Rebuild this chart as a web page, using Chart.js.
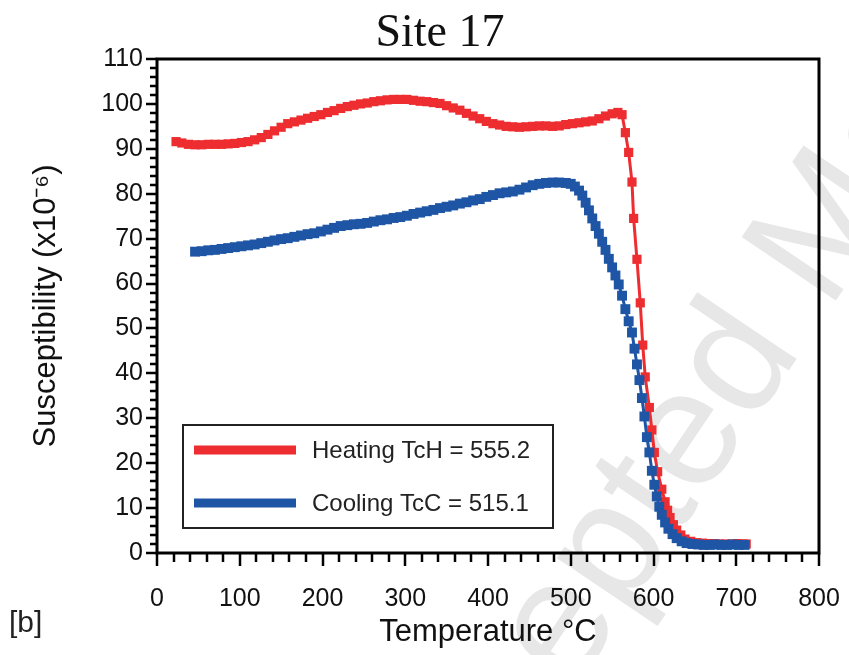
<!DOCTYPE html>
<html>
<head>
<meta charset="utf-8">
<script src="https://cdn.jsdelivr.net/npm/chart.js@4"></script>
<style>
  html, body { margin: 0; padding: 0; background: #fff; }
  canvas { display: block; }
</style>
</head>
<body>
<canvas id="grafico" width="849" height="655"></canvas>
<script>
// Heating curve (temperature °C, susceptibility x10^-6)
const heatT = [23,30,38,46,54,62,70,78,86,94,102,110,118,126,134,142,150,158,166,174,182,190,198,206,214,222,230,238,246,254,262,270,278,286,294,302,310,318,326,334,342,350,358,366,374,382,390,398,406,414,422,430,438,446,454,462,470,478,486,494,502,510,518,526,534,542,550,557,562,566,570,574,576,580,584,587,590,595,598,601,605,610,614,617,620,624,628,633,638,645,652,659,666,673,680,687,694,701,708,712];
const heatV = [91.6,91.3,91.0,90.9,90.9,91.0,91.0,91.0,91.1,91.2,91.4,91.6,92.0,92.5,93.2,94.0,94.8,95.6,96.0,96.4,96.8,97.2,97.6,98.1,98.5,99.0,99.4,99.7,100.0,100.2,100.5,100.7,100.9,101.0,101.0,101.0,100.8,100.6,100.5,100.3,100.1,99.6,99.1,98.6,97.9,97.3,96.7,96.1,95.6,95.3,95.0,94.9,94.8,94.9,95.0,95.1,95.1,95.0,95.1,95.4,95.6,95.8,96.0,96.2,96.7,97.3,97.8,98.1,97.6,93.6,89.2,82.6,74.5,65.4,55.7,46.3,39.2,32.4,27.4,22.4,18.1,14.2,11.4,9.5,7.9,6.3,5.1,4.0,3.1,2.6,2.3,2.2,2.1,2.1,2.0,2.0,2.0,2.1,2.0,2.0];

// Cooling curve
const coolT = [46,54,62,70,78,86,94,102,110,118,126,134,142,150,158,166,174,182,190,198,206,214,222,230,238,246,254,262,270,278,286,294,302,310,318,326,334,342,350,358,366,374,382,390,398,406,414,422,430,438,446,454,462,470,478,486,494,500,505,510,514,518,522,526,530,534,538,542,546,550,554,558,562,566,570,574,577,580,583,586,589,592,595,598,601,604,607,610,614,618,623,628,634,640,647,654,661,668,675,682,689,696,703,710];
const coolV = [67.1,67.2,67.4,67.5,67.7,67.9,68.1,68.3,68.5,68.7,69.0,69.3,69.6,69.9,70.1,70.4,70.7,71.0,71.2,71.6,72.0,72.4,72.8,73.0,73.2,73.3,73.5,73.8,74.1,74.3,74.6,74.8,75.1,75.5,75.8,76.1,76.4,76.8,77.1,77.4,77.8,78.1,78.5,78.8,79.3,79.7,80.1,80.3,80.5,80.9,81.4,81.9,82.2,82.4,82.5,82.5,82.4,82.2,81.6,80.7,79.6,78.0,76.3,74.5,72.8,71.1,69.3,67.5,65.5,63.6,61.8,59.8,57.3,54.3,51.6,49.1,45.5,42.0,38.5,34.5,30.4,25.8,22.4,18.3,15.2,12.6,10.3,8.5,6.8,5.4,4.2,3.3,2.6,2.2,2.0,1.9,1.8,1.8,1.9,1.8,1.8,1.9,1.8,1.8];

const seriesLabels = ['Heating TcH = 555.2', 'Cooling TcC = 515.1'];
const seriesColors = ['#ee2d30', '#1e55a5'];

const xTicks = [0, 800, 100];   // min, max, step
const yTicks = [0, 110, 10];

const titulo = 'Site 17';
const painel = '[b]';
const marcaDagua = 'Accepted Manuscript';

const sans = "'Liberation Sans', Arial, sans-serif";

function pares(xs, ys) {
  return xs.map((x, i) => ({ x: x, y: ys[i] }));
}

// fundo branco + marca d'água
const fundo = {
  id: 'fundo',
  beforeDraw(chart) {
    const ctx = chart.ctx;
    ctx.save();
    ctx.fillStyle = '#fff';
    ctx.fillRect(0, 0, chart.width, chart.height);
    ctx.font = '165px ' + sans;
    ctx.fillStyle = '#e7e7e7';
    ctx.translate(690, 440);
    ctx.rotate(-56 * Math.PI / 180);
    const pre = ctx.measureText('Accept').width + ctx.measureText('e').width / 2;
    ctx.fillText(marcaDagua, -pre, 165 * 0.26);
    ctx.restore();
  }
};

// moldura, ticks maiores/menores, legenda e textos
const extras = {
  id: 'extras',
  afterDraw(chart) {
    const ctx = chart.ctx;
    const a = chart.chartArea;
    const sx = chart.scales.x, sy = chart.scales.y;
    ctx.save();
    ctx.strokeStyle = '#000';
    ctx.lineWidth = 2.5;
    ctx.beginPath();
    for (let v = yTicks[0]; v <= yTicks[1]; v += 2) {
      const p = Math.round(sy.getPixelForValue(v));
      const len = v % 10 === 0 ? 11 : 7;
      ctx.moveTo(a.left - len, p);
      ctx.lineTo(a.left, p);
    }
    for (let v = xTicks[0]; v <= xTicks[1]; v += 20) {
      const p = Math.round(sx.getPixelForValue(v));
      const len = v % 100 === 0 ? 13 : 9;
      ctx.moveTo(p, a.bottom);
      ctx.lineTo(p, a.bottom + len);
    }
    ctx.stroke();
    ctx.lineWidth = 3;
    ctx.strokeRect(a.left, a.top, a.right - a.left, a.bottom - a.top);

    // legenda
    const lx = a.left + 26, ly = a.top + 366;
    ctx.lineWidth = 2;
    ctx.strokeStyle = '#222';
    ctx.strokeRect(lx, ly, 370, 103);
    ctx.font = '24px ' + sans;
    ctx.textBaseline = 'middle';
    ctx.textAlign = 'left';
    chart.data.datasets.forEach((ds, i) => {
      const yy = ly + 25 + i * 53;
      ctx.fillStyle = ds.borderColor;
      ctx.fillRect(lx + 11, yy - 4.5, 102, 9);
      ctx.fillStyle = '#222';
      ctx.fillText(ds.label, lx + 129, yy + 1);
    });

    // título e painel
    ctx.fillStyle = '#111';
    ctx.font = "46px 'Liberation Serif', 'Times New Roman', serif";
    ctx.textAlign = 'center';
    ctx.fillText(titulo, 440, 34);
    ctx.font = '30px ' + sans;
    ctx.textAlign = 'left';
    ctx.fillStyle = '#222';
    ctx.fillText(painel, 9, 624);
    ctx.restore();
  }
};

const ctxGrafico = document.getElementById('grafico').getContext('2d');
const grafico = new Chart(ctxGrafico, {
  type: 'line',
  data: {
    datasets: [
      {
        label: seriesLabels[0],
        data: pares(heatT, heatV),
        borderColor: seriesColors[0],
        backgroundColor: seriesColors[0],
        borderWidth: 3,
        pointStyle: 'rect',
        pointRadius: 6.5,
        pointBorderWidth: 0,
        order: 2
      },
      {
        label: seriesLabels[1],
        data: pares(coolT, coolV),
        borderColor: seriesColors[1],
        backgroundColor: seriesColors[1],
        borderWidth: 3,
        pointStyle: 'rect',
        pointRadius: 7,
        pointBorderWidth: 0,
        order: 1
      }
    ]
  },
  options: {
    responsive: false,
    animation: false,
    events: [],
    layout: { padding: { top: 59, right: 30, left: 0, bottom: 0 } },
    plugins: {
      legend: { display: false },
      tooltip: { enabled: false }
    },
    scales: {
      x: {
        type: 'linear',
        min: xTicks[0],
        max: xTicks[1],
        afterFit(scale) {
          scale.height = 102;
          scale.paddingLeft = 0;
          scale.paddingRight = 0;
        },
        grid: { display: false, drawTicks: false },
        border: { display: false },
        ticks: {
          stepSize: xTicks[2],
          padding: 31,
          color: '#111',
          maxRotation: 0,
          font: { family: sans, size: 25 }
        },
        title: {
          display: true,
          text: 'Temperature °C',
          color: '#111',
          font: { family: sans, size: 31 },
          padding: { top: 0, bottom: 4 }
        }
      },
      y: {
        min: yTicks[0],
        max: yTicks[1],
        afterFit(scale) {
          scale.width = 157;
          scale.paddingTop = 0;
          scale.paddingBottom = 0;
        },
        grid: { display: false, drawTicks: false },
        border: { display: false },
        ticks: {
          stepSize: yTicks[2],
          padding: 14,
          color: '#111',
          font: { family: sans, size: 25 }
        },
        title: {
          display: true,
          text: 'Susceptibility (x10⁻⁶)',
          color: '#111',
          font: { family: sans, size: 31 },
          padding: { top: 28, bottom: 0 }
        }
      }
    }
  },
  plugins: [fundo, extras]
});
</script>
</body>
</html>
